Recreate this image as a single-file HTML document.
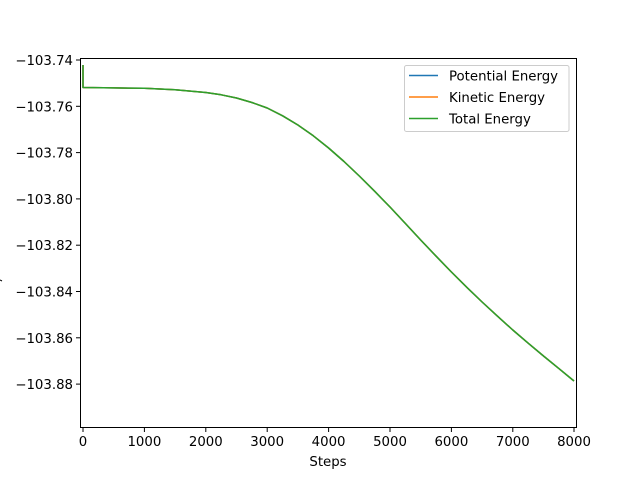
<!DOCTYPE html>
<html><head><style>
html,body{margin:0;padding:0;background:#fff;}
svg text{font-family:"DejaVu Sans","Liberation Sans",sans-serif;font-size:13.3px;fill:#000;}
</style></head><body>
<svg width="640" height="480" viewBox="0 0 640 480" xmlns="http://www.w3.org/2000/svg">
<rect width="640" height="480" fill="#fff"/>
<defs>
<polyline id="c" fill="none" stroke-width="1.5" stroke-linejoin="round" points="83,65 83,87.5 113.7,87.9 144.4,88.3 175.1,89.8 205.8,92.5 221.2,94.8 236.5,98 251.9,102.5 267.2,108 282.6,115.8 297.9,125 313.3,135.8 328.6,148 344,161.5 359.3,176 374.7,191.3 390,207 405.4,223.5 420.7,240 436.1,256.2 451.4,272 466.8,287.3 482.1,302 497.5,316.2 512.8,330 528.2,343.2 543.5,356 558.9,368.6 574,381"/>
</defs>
<use href="#c" stroke="#1f77b4"/>
<use href="#c" stroke="#ff7f0e"/>
<use href="#c" stroke="#2ca02c"/>
<rect x="80.5" y="58.5" width="496" height="369" fill="none" stroke="#000" stroke-width="1"/>
<g stroke="#000" stroke-width="1">
<line x1="76" y1="60" x2="80" y2="60"/><line x1="76" y1="106.3" x2="80" y2="106.3"/><line x1="76" y1="152.6" x2="80" y2="152.6"/><line x1="76" y1="198.9" x2="80" y2="198.9"/><line x1="76" y1="245.2" x2="80" y2="245.2"/><line x1="76" y1="291.5" x2="80" y2="291.5"/><line x1="76" y1="337.8" x2="80" y2="337.8"/><line x1="76" y1="384.1" x2="80" y2="384.1"/>
<line x1="83" y1="428" x2="83" y2="432"/><line x1="144.4" y1="428" x2="144.4" y2="432"/><line x1="205.8" y1="428" x2="205.8" y2="432"/><line x1="267.2" y1="428" x2="267.2" y2="432"/><line x1="328.6" y1="428" x2="328.6" y2="432"/><line x1="390" y1="428" x2="390" y2="432"/><line x1="451.4" y1="428" x2="451.4" y2="432"/><line x1="512.8" y1="428" x2="512.8" y2="432"/><line x1="574" y1="428" x2="574" y2="432"/>
</g>
<g text-anchor="end">
<text x="73" y="65">−103.74</text><text x="73" y="111.3">−103.76</text><text x="73" y="157.6">−103.78</text><text x="73" y="203.9">−103.80</text><text x="73" y="250.2">−103.82</text><text x="73" y="296.5">−103.84</text><text x="73" y="342.8">−103.86</text><text x="73" y="389.1">−103.88</text>
</g>
<g text-anchor="middle">
<text x="83" y="446">0</text><text x="144.4" y="446">1000</text><text x="205.8" y="446">2000</text><text x="267.2" y="446">3000</text><text x="328.6" y="446">4000</text><text x="390" y="446">5000</text><text x="451.4" y="446">6000</text><text x="512.8" y="446">7000</text><text x="574" y="446">8000</text>
<text x="328" y="466">Steps</text>
</g>
<line x1="0" y1="280" x2="2" y2="281" stroke="#000" stroke-width="1"/>
<rect x="404.5" y="65.5" width="164.5" height="66" rx="2" fill="#fff" fill-opacity="0.8" stroke="#ccc" stroke-width="1"/>
<line x1="409" y1="75.5" x2="438" y2="75.5" stroke="#1f77b4" stroke-width="1.5"/>
<line x1="409" y1="97" x2="438" y2="97" stroke="#ff7f0e" stroke-width="1.5"/>
<line x1="409" y1="118.5" x2="438" y2="118.5" stroke="#2ca02c" stroke-width="1.5"/>
<text x="449" y="80.5">Potential Energy</text>
<text x="449" y="102">Kinetic Energy</text>
<text x="449" y="123.5">Total Energy</text>
</svg>
</body></html>
